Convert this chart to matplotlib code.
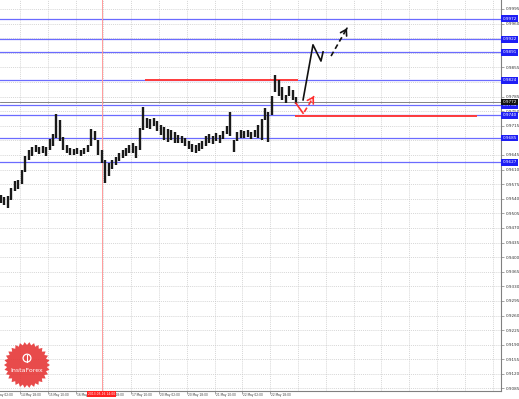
import numpy as np
import matplotlib.pyplot as plt
import matplotlib.transforms as mtransforms
from matplotlib.patches import Polygon

# 2-hour bars, x in hours counted from 14 May 02:00
bar_high = [0.9549, 0.9544, 0.9547, 0.9566, 0.9583, 0.9585, 0.9609, 0.9642, 0.9657, 0.9664,
            0.9669, 0.9664, 0.9666, 0.9664, 0.9683, 0.9695, 0.9743, 0.9729, 0.9688, 0.9669,
            0.9662, 0.9659, 0.9662, 0.9657, 0.9662, 0.9669, 0.9707, 0.9702, 0.9681, 0.9657,
            0.9633, 0.9626, 0.9633, 0.9640, 0.9650, 0.9657, 0.9662, 0.9669, 0.9674, 0.9666,
            0.9710, 0.9760, 0.9734, 0.9731, 0.9734, 0.9726, 0.9717, 0.9712, 0.9707, 0.9705,
            0.9700, 0.9693, 0.9690, 0.9686, 0.9678, 0.9671, 0.9669, 0.9674, 0.9678, 0.9690,
            0.9695, 0.9690, 0.9698, 0.9693, 0.9702, 0.9714, 0.9748, 0.9681, 0.9700, 0.9705,
            0.9702, 0.9705, 0.9700, 0.9705, 0.9717, 0.9731, 0.9758, 0.9748, 0.9786, 0.9837,
            0.9825, 0.9808, 0.9789, 0.9810, 0.9801, 0.9784]
bar_low = [0.9530, 0.9525, 0.9518, 0.9537, 0.9559, 0.9563, 0.9575, 0.9604, 0.9633, 0.9642,
           0.9652, 0.9647, 0.9650, 0.9642, 0.9657, 0.9666, 0.9686, 0.9678, 0.9657, 0.9650,
           0.9645, 0.9645, 0.9647, 0.9642, 0.9647, 0.9652, 0.9666, 0.9681, 0.9645, 0.9626,
           0.9578, 0.9595, 0.9611, 0.9621, 0.9630, 0.9638, 0.9642, 0.9650, 0.9650, 0.9638,
           0.9657, 0.9705, 0.9710, 0.9707, 0.9714, 0.9702, 0.9693, 0.9681, 0.9676, 0.9681,
           0.9674, 0.9674, 0.9674, 0.9666, 0.9659, 0.9652, 0.9650, 0.9654, 0.9659, 0.9666,
           0.9674, 0.9671, 0.9678, 0.9674, 0.9683, 0.9695, 0.9690, 0.9652, 0.9678, 0.9686,
           0.9686, 0.9688, 0.9683, 0.9688, 0.9686, 0.9681, 0.9729, 0.9676, 0.9741, 0.9796,
           0.9786, 0.9777, 0.9770, 0.9786, 0.9777, 0.9767]
bar_hour = 5 + 2 * np.arange(len(bar_high))

tick_hours = [0, 16, 32, 48, 64, 80, 96, 112, 128, 144, 160]
tick_labels = ['14 May 02:00', '14 May 18:00', '15 May 10:00', '16 May 02:00',
               '16 May 18:00', '17 May 10:00', '20 May 02:00', '20 May 18:00',
               '21 May 10:00', '22 May 02:00', '22 May 18:00']
grid_hours = np.arange(0, 300, 16)
price_ticks = 0.9085 + 0.0035 * np.arange(27)

blue_levels = [0.9972, 0.9922, 0.9891, 0.9824, 0.9764, 0.9740, 0.9685, 0.9627]
red_levels = [(0.9825, 88, 176), (0.9739, 174, 279)]
bid_price = 0.9772
marker_hour = 63
marker_label = '2013.05.16 14:00'

# forecast drawings
red_path = [(174.8, 0.9769), (178.9, 0.9745)]
red_dash = [(179.6, 0.9748), (185.2, 0.9786)]
black_path = [(178.9, 0.9777), (184.6, 0.9909), (189.2, 0.9870), (190.4, 0.9892)]
black_dash = [(195.0, 0.9882), (204.2, 0.9949)]

fig = plt.figure(figsize=(5.19, 3.99), dpi=100)
ax = fig.add_axes([0, 8 / 399, 501 / 519, 391 / 399])
ax.set_xlim(4.49, 292.8)
ax.set_ylim(0.90790, 1.00164)

for h in grid_hours:
    ax.axvline(h, color='#c8c8c8', lw=0.5, ls=(0, (1.5, 1.5)), zorder=0)
for p in price_ticks:
    ax.axhline(p, color='#c8c8c8', lw=0.5, ls=(0, (1.5, 1.5)), zorder=0)

for v in blue_levels:
    ax.axhline(v, color='#6b6bff', lw=0.9, zorder=1)
ax.axhline(bid_price, color='#707070', lw=0.6, zorder=1)
ax.axvline(marker_hour, color='#ff9a9a', lw=0.7, zorder=1)
for v, x0, x1 in red_levels:
    ax.hlines(v, x0, x1, color='#ff3b3b', lw=1.4, zorder=2)

ax.vlines(bar_hour, bar_low, bar_high, color='#1a1a1a', lw=1.7, zorder=3)

# red forecast
rx, ry = zip(*red_path)
ax.plot(rx, ry, color='#ff3030', lw=1.2, zorder=4)
rx, ry = zip(*red_dash)
ax.plot(rx, ry, color='#ff3030', lw=1.2, ls=(0, (3, 2)), zorder=4)
ax.annotate('', xy=red_dash[-1], xytext=(red_dash[-1][0] - 0.8, red_dash[-1][1] - 0.00055),
            arrowprops=dict(arrowstyle='->,head_length=0.4,head_width=0.25', color='#ff3030', lw=1.2))
# black forecast
bx, by = zip(*black_path)
ax.plot(bx, by, color='#111111', lw=1.2, zorder=4)
bx, by = zip(*black_dash)
ax.plot(bx, by, color='#111111', lw=1.2, ls=(0, (3, 2)), zorder=4)
ax.annotate('', xy=black_dash[-1], xytext=(black_dash[-1][0] - 0.8, black_dash[-1][1] - 0.0006),
            arrowprops=dict(arrowstyle='->,head_length=0.4,head_width=0.25', color='#111111', lw=1.2))

# axes styling
for s in ['top', 'left']:
    ax.spines[s].set_visible(False)
for s in ['right', 'bottom']:
    ax.spines[s].set_color('#808080')
    ax.spines[s].set_linewidth(0.8)
ax.yaxis.tick_right()
ax.set_yticks(price_ticks)
# price labels hidden behind the level boxes are left out
boxed = blue_levels + [bid_price]
ax.set_yticklabels(['' if min(abs(v - b) for b in boxed) < 0.0006 else f'{v:.4f}'
                    for v in price_ticks])
ax.tick_params(axis='y', labelsize=3.0, length=2, width=0.5, color='#808080', pad=1.5, labelcolor='#333333')
ax.set_xticks(tick_hours[1:])
ax.set_xticklabels([])
ax.tick_params(axis='x', length=2, width=0.5, color='#808080')

xtrans = mtransforms.blended_transform_factory(ax.transData, ax.transAxes)
for h, lab in zip(tick_hours, tick_labels):
    ax.text(h + 0.6, -0.004, lab, transform=xtrans, fontsize=2.1, ha='left', va='top',
            color='#333333', clip_on=False)
ax.text(marker_hour, -0.003, marker_label, transform=xtrans, fontsize=2.2, ha='center', va='top',
        color='white', clip_on=False, zorder=6,
        bbox=dict(boxstyle='square,pad=0.25', fc='#ff2020', ec='none'))

ytrans = mtransforms.blended_transform_factory(ax.transAxes, ax.transData)
for v in blue_levels:
    ax.text(1.003, v, f'{v:.4f}', transform=ytrans, fontsize=3.0, ha='left', va='center',
            color='white', clip_on=False, zorder=6,
            bbox=dict(boxstyle='square,pad=0.3', fc='#1e1ef5', ec='none'))
ax.text(1.003, bid_price, f'{bid_price:.4f}', transform=ytrans, fontsize=3.0, ha='left', va='center',
        color='white', clip_on=False, zorder=6,
        bbox=dict(boxstyle='square,pad=0.3', fc='#111111', ec='none'))

# InstaForex logo
lax = fig.add_axes([4 / 519, 11 / 399, 46 / 519, 46 / 399])
lax.set_xlim(-1, 1)
lax.set_ylim(-1, 1)
lax.axis('off')
n = 30
ang = np.linspace(0, 2 * np.pi, 2 * n, endpoint=False)
rad = np.where(np.arange(2 * n) % 2 == 0, 1.0, 0.87)
lax.add_patch(Polygon(np.column_stack([rad * np.cos(ang), rad * np.sin(ang)]),
                      closed=True, fc='#e63b3b', ec='none', alpha=0.92))
lax.add_patch(plt.Circle((0, 0.3), 0.17, fc='none', ec='white', lw=0.9))
lax.plot([0, 0], [0.12, 0.42], color='white', lw=0.8)
lax.text(0, -0.22, 'InstaForex', color='white', fontsize=4.5, ha='center', va='center')

fig.savefig('out.png', dpi=100)
